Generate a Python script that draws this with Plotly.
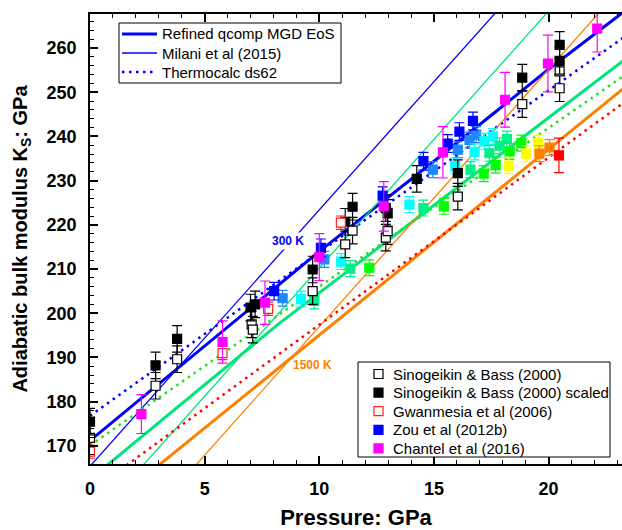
import plotly.graph_objects as go

# ---------------- model curves (pressure GPa, K_S GPa) ----------------
P_qcomp_300 = [0, 5, 10, 15, 20, 23.3]
K_qcomp_300 = [171.2, 192.7, 214.0, 234.4, 255.2, 268.3]
P_qcomp_mid = [0.6, 8.2, 23.3]
K_qcomp_mid = [165.0, 197.5, 257.3]
P_qcomp_1500 = [2.9, 23.3]
K_qcomp_1500 = [165.2, 251.0]

P_milani_300 = [0, 18]
K_milani_300 = [165.4, 269.8]
P_milani_mid = [2.0, 20.4]
K_milani_mid = [163.8, 270.7]
P_milani_1500 = [4.4, 22.6]
K_milani_1500 = [164.4, 270.3]

P_tc_300 = [0, 10, 23.3]
K_tc_300 = [176.8, 213.8, 262.5]
P_tc_mid = [0, 23.3]
K_tc_mid = [170.1, 253.8]
P_tc_1500 = [1.59, 23.3]
K_tc_1500 = [165.6, 247.7]

# ---------------- experimental data ----------------
P_sb = [0, 2.86, 3.8, 7.05, 7.1, 9.71, 11.13, 11.45, 12.9, 12.98, 16.04, 18.85, 20.48, 20.48]
K_sb = [171.8, 183.6, 189.6, 197.5, 196.3, 205.0, 215.6, 218.7, 217.1, 218.6, 226.4, 247.3, 254.7, 250.9]
E_sb = [3.0] * len(P_sb)

P_sbs = [0, 2.86, 3.8, 7.0, 7.2, 9.71, 11.13, 11.45, 12.9, 12.98, 14.25, 16.04, 18.85, 20.48, 20.48]
K_sbs = [175.5, 188.2, 194.2, 201.3, 202.0, 209.9, 220.7, 224.1, 223.8, 222.7, 230.4, 231.7, 253.3, 260.7, 257.1]
E_sbs = [3.0] * len(P_sbs)

P_gw = [0, 5.78, 7.77, 10.94]
K_gw = [168.7, 191.0, 201.0, 220.5]
E_gw = [1.5, 1.5, 1.5, 1.5]

P_zou = [8.03, 10.07, 12.76, 14.54, 15.6, 16.11, 16.7]
K_zou = [205.0, 214.8, 226.6, 234.4, 238.4, 241.1, 243.5]
E_zou = [2.0] * len(P_zou)

P_ch = [2.24, 5.78, 7.63, 10.0, 12.81, 15.39, 18.1, 19.97, 22.12]
K_ch = [177.2, 193.5, 202.4, 212.7, 224.2, 236.4, 248.3, 256.5, 264.4]
E_ch = [4.4, 4.8, 4.9, 5.3, 5.6, 5.8, 6.2, 6.4, 5.3]

# high-temperature points (colour coded by temperature)
P_azure = [8.4, 10.22, 14.95, 16.04, 16.55, 16.84]
K_azure = [203.4, 212.2, 232.5, 237.0, 239.2, 240.4]
P_cyan = [9.2, 10.95, 13.93, 15.93, 16.77, 17.2, 17.57]
K_cyan = [203.2, 211.7, 224.6, 233.3, 236.5, 238.9, 240.0]
P_spring = [9.78, 11.35, 14.54, 16.59, 17.42, 17.86, 18.18]
K_spring = [202.8, 210.1, 223.8, 232.5, 236.2, 237.9, 239.4]
P_green = [12.18, 15.43, 17.17, 17.69, 18.3, 18.81]
K_green = [210.3, 224.2, 231.6, 233.5, 236.6, 238.5]
P_yellow = [18.27, 19.02, 19.53]
K_yellow = [233.4, 236.1, 238.5]
P_orange = [19.6, 20.04]
K_orange = [236.1, 237.5]
P_red = [20.45]
K_red = [235.7]
E_hot = 1.8

line_legend_labels = ["Refined qcomp MGD EoS", "Milani et al (2015)", "Thermocalc ds62"]
data_legend_labels = ["Sinogeikin &amp; Bass (2000)", "Sinogeikin &amp; Bass (2000) scaled",
                      "Gwanmesia et al (2006)", "Zou et al (2012b)", "Chantel et al (2016)"]

FONT = "Liberation Sans"
W, H = 622, 530
ML, MR, MT, MB = 90, 0, 14, 66
PW, PH = W - ML - MR, H - MT - MB

fig = go.Figure()

def add_line(P, K, color, width, dash):
    fig.add_trace(go.Scatter(x=P, y=K, mode="lines", showlegend=False, hoverinfo="skip",
                             line=dict(color=color, width=width, dash=dash)))

DOT = "2.5px,4.5px"
add_line(P_qcomp_300, K_qcomp_300, "#0000ff", 3, "solid")
add_line(P_milani_300, K_milani_300, "#0000ff", 1.3, "solid")
add_line(P_tc_300, K_tc_300, "#0000ff", 2.5, DOT)
add_line(P_qcomp_mid, K_qcomp_mid, "#00e67a", 3, "solid")
add_line(P_milani_mid, K_milani_mid, "#00e67a", 1.3, "solid")
add_line(P_tc_mid, K_tc_mid, "#22e022", 2.5, DOT)
add_line(P_qcomp_1500, K_qcomp_1500, "#ff8000", 3, "solid")
add_line(P_milani_1500, K_milani_1500, "#ff8000", 1.3, "solid")
add_line(P_tc_1500, K_tc_1500, "#ff0000", 2.5, DOT)

def add_pts(P, K, E, fill, edge):
    fig.add_trace(go.Scatter(
        x=P, y=K, mode="markers", showlegend=False,
        marker=dict(symbol="square", size=9, color=fill, line=dict(color=edge, width=1.2)),
        error_y=dict(type="data", array=E if isinstance(E, list) else [E] * len(P),
                     color=edge, thickness=1.2, width=5),
        hoverinfo="skip"))

add_pts(P_azure, K_azure, E_hot, "#1e88ff", "#1e88ff")
add_pts(P_cyan, K_cyan, E_hot, "#00ffff", "#00ffff")
add_pts(P_spring, K_spring, E_hot, "#00f088", "#00f088")
add_pts(P_green, K_green, E_hot, "#00ff00", "#00ff00")
add_pts(P_yellow, K_yellow, E_hot, "#ffff00", "#ffff00")
add_pts(P_orange, K_orange, E_hot, "#ff8000", "#ff8000")
add_pts(P_red, K_red, [3.9], "#ff0000", "#ff0000")

add_pts(P_sb, K_sb, E_sb, "white", "black")
add_pts(P_sbs, K_sbs, E_sbs, "black", "black")
add_pts(P_gw, K_gw, E_gw, "white", "#ff2020")
add_pts(P_zou, K_zou, E_zou, "#0000ff", "#0000ff")
add_pts(P_ch, K_ch, E_ch, "#ff00ff", "#ff00ff")

# ------------- legends drawn as boxes / samples / text in paper coords -------------
def px(x):
    return (x - ML) / PW

def py(y):
    return (H - MB - y) / PH

shapes = []
annos = []

# legend 1 (model lines)
shapes.append(dict(type="rect", xref="paper", yref="paper", x0=px(119), x1=px(341),
                   y0=py(83), y1=py(23), fillcolor="white",
                   line=dict(color="black", width=1), layer="above"))
line_styles = [(3, "solid"), (1.3, "solid"), (2.5, DOT)]
for i, (lab, (lw, ds)) in enumerate(zip(line_legend_labels, line_styles)):
    yy = 34 + 19 * i
    shapes.append(dict(type="line", xref="paper", yref="paper", x0=px(122), x1=px(157),
                       y0=py(yy), y1=py(yy), line=dict(color="#0000ff", width=lw, dash=ds),
                       layer="above"))
    annos.append(dict(xref="paper", yref="paper", x=px(160), y=py(yy), text=lab,
                      xanchor="left", yanchor="middle", showarrow=False,
                      font=dict(family=FONT, size=15, color="black")))

# legend 2 (data)
shapes.append(dict(type="rect", xref="paper", yref="paper", x0=px(358), x1=px(610),
                   y0=py(457), y1=py(362), fillcolor="white",
                   line=dict(color="black", width=1), layer="above"))
marker_styles = [("white", "black"), ("black", "black"), ("white", "#ff2020"),
                 ("#0000ff", "#0000ff"), ("#ff00ff", "#ff00ff")]
for i, (lab, (fc, ec)) in enumerate(zip(data_legend_labels, marker_styles)):
    yy = 374 + 18.6 * i
    shapes.append(dict(type="rect", xref="paper", yref="paper", x0=px(374), x1=px(383),
                       y0=py(yy + 4.5), y1=py(yy - 4.5), fillcolor=fc,
                       line=dict(color=ec, width=1.2), layer="above"))
    annos.append(dict(xref="paper", yref="paper", x=px(391), y=py(yy), text=lab,
                      xanchor="left", yanchor="middle", showarrow=False,
                      font=dict(family=FONT, size=15, color="black")))

annos.append(dict(x=8.62, y=216.3, text="<b>300 K</b>", showarrow=False,
                  font=dict(family=FONT, size=12, color="#0000ff"), bgcolor="white",
                  borderpad=1))
annos.append(dict(x=9.7, y=188.3, text="<b>1500 K</b>", showarrow=False,
                  font=dict(family=FONT, size=12, color="#ff8000")))

axis_common = dict(showline=True, linecolor="black", linewidth=1.5, ticks="inside",
                   ticklen=8, tickwidth=1.5, tickcolor="black", showgrid=False,
                   zeroline=False,
                   tickfont=dict(family=FONT, size=18, color="black", weight="bold"))

fig.update_layout(
    width=W, height=H, margin=dict(l=ML, r=MR, t=MT, b=MB),
    paper_bgcolor="white", plot_bgcolor="white", showlegend=False,
    shapes=shapes, annotations=annos,
    xaxis=dict(range=[0, 23.2], tick0=0, dtick=5, mirror="ticks",
               minor=dict(dtick=1, ticklen=4, tickwidth=1.2, ticks="inside", tickcolor="black"),
               ticklabelstandoff=8,
               title=dict(text="Pressure: GPa", standoff=14,
                          font=dict(family=FONT, size=22, color="black", weight="bold")),
               **axis_common),
    yaxis=dict(range=[165.9, 267.7], tick0=170, dtick=10, mirror=False,
               minor=dict(dtick=2, ticklen=4, tickwidth=1.2, ticks="inside", tickcolor="black"),
               ticklabelstandoff=8,
               title=dict(text="Adiabatic bulk modulus K<sub>S</sub>: GPa", standoff=14,
                          font=dict(family=FONT, size=20, color="black", weight="bold")),
               **axis_common),
)

fig.write_html("out.html", config={"displayModeBar": False},
               post_script="document.body.style.margin='0';document.body.style.overflow='hidden';")
